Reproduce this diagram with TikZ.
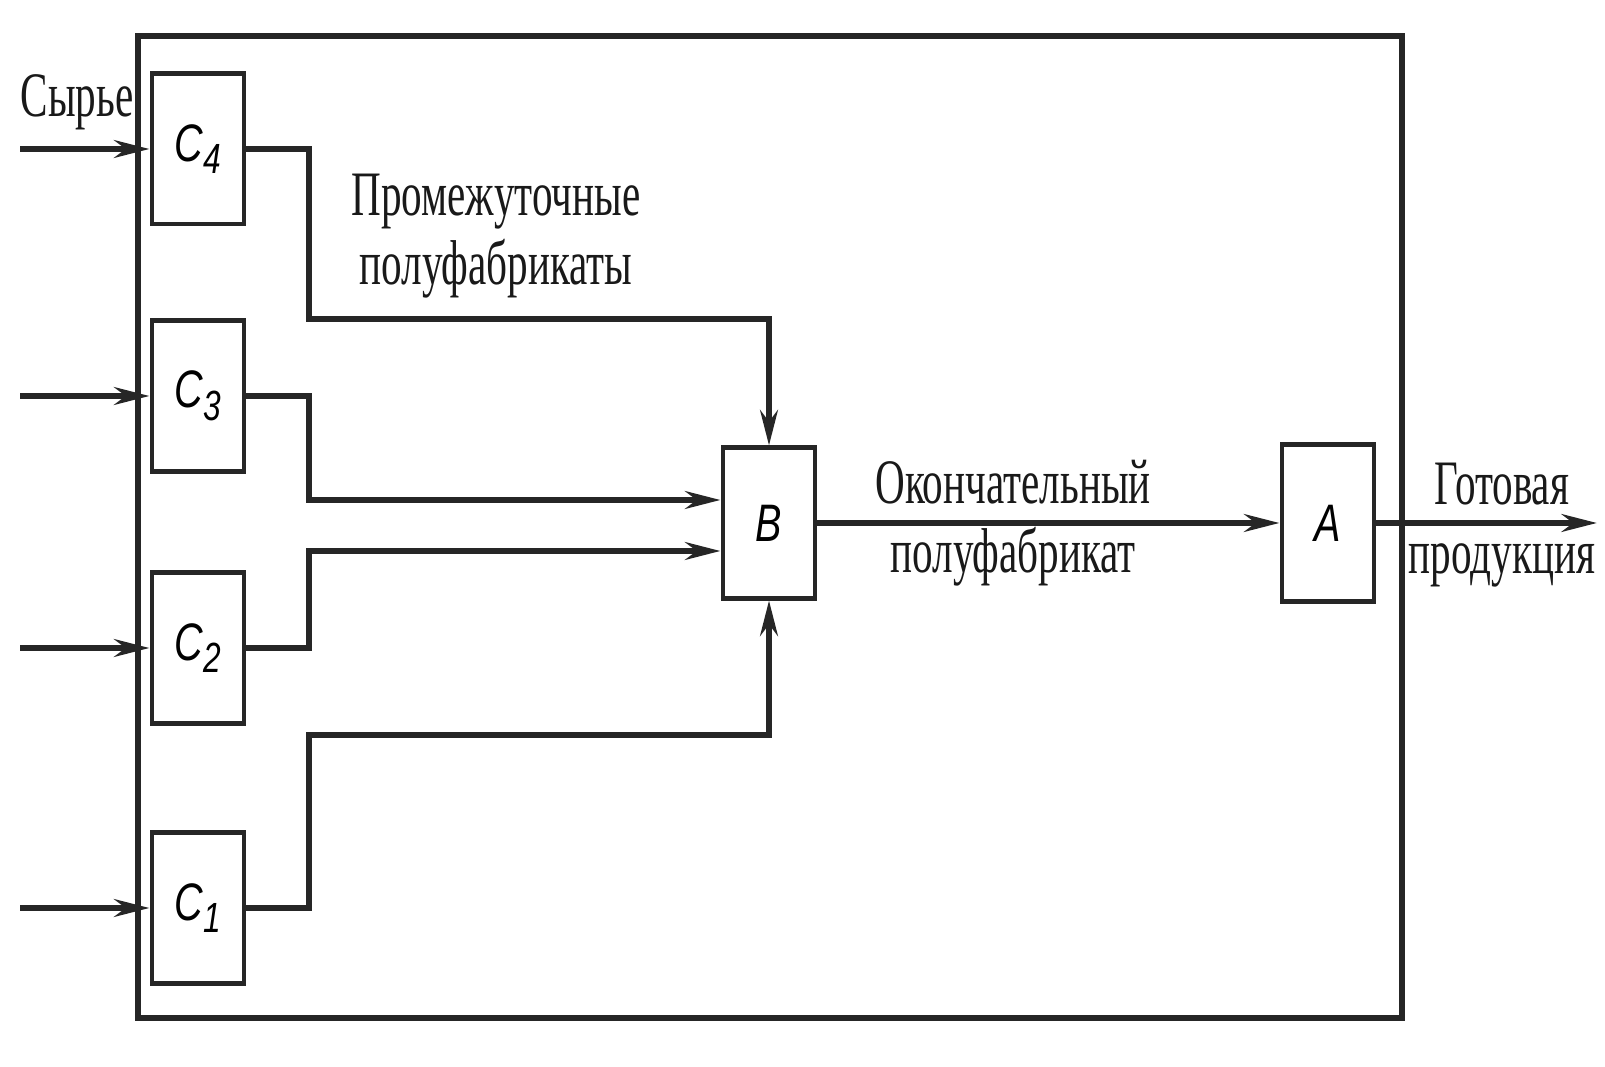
\documentclass[tikz,border=0pt]{standalone}
\usepackage{fontspec}
\setmainfont{Liberation Serif}[FakeStretch=0.65]
\newfontfamily\blockfont{Liberation Sans}[FakeStretch=0.75]
\usetikzlibrary{arrows.meta}
\newcommand{\Csub}[1]{C\raisebox{-0.45ex}{\fontsize{12}{12}\selectfont #1}}
\tikzset{
    myblock/.style={draw=black!85,line width=1.4pt,minimum width=0.92cm,minimum height=1.5cm,inner sep=0pt,
                    font=\blockfont\itshape\fontsize{15}{15}\selectfont},
    myframe/.style={draw=black!85,line width=1.5pt},
    myflow/.style={draw=black!85,line width=1.7pt},
    myarrow/.style={myflow,-{Stealth[length=10pt,width=5pt]}},
    mylabel/.style={align=center,inner sep=0pt,text=black!90,font=\fontsize{18}{19.5}\selectfont}
}
\begin{document}
\begin{tikzpicture}[x=0.01cm,y=-0.01cm]
  \useasboundingbox (0,0) rectangle (1605,1067);
  % рамка предприятия
  \draw[myframe] (138,36) rectangle (1402,1018);

  % цеха
  \node[myblock] (c4) at (198,149) {\Csub{4}};
  \node[myblock] (c3) at (198,396) {\Csub{3}};
  \node[myblock] (c2) at (198,648) {\Csub{2}};
  \node[myblock] (c1) at (198,908) {\Csub{1}};
  \node[myblock] (b) at (769,523) {B};
  \node[myblock,minimum height=1.57cm] (a) at (1328,523) {A};

  % сырье на входе
  \coordinate (src) at (20,0);
  \coordinate (dst) at (1597,0);
  \foreach \C in {c4,c3,c2,c1}{\draw[myarrow] (\C.west -| src) -- (\C.west);}

  % промежуточные полуфабрикаты
  \coordinate (j4) at (309,319);
  \coordinate (j3) at (309,500);
  \coordinate (j2) at (309,551);
  \coordinate (j1) at (309,735);
  \draw[myarrow] (c4.east) -| (j4) -| (b.north);
  \draw[myarrow] (c3.east) -| (j3) -- (j3 -| b.west);
  \draw[myarrow] (c2.east) -| (j2) -- (j2 -| b.west);
  \draw[myarrow] (c1.east) -| (j1) -| (b.south);

  % окончательный полуфабрикат и продукция
  \draw[myarrow] (b.east) -- (a.west);
  \draw[myarrow] (a.east) -- (a.east -| dst);

  \node[mylabel] (raw)   at (77,102)   {Сырье};
  \node[mylabel] (semi)  at (496,236)  {Промежуточные\\полуфабрикаты};
  \node[mylabel] (final) at (1013,523) {Окончательный\\полуфабрикат};
  \node[mylabel] (goods) at (1502,525) {Готовая\\продукция};
\end{tikzpicture}
\end{document}
